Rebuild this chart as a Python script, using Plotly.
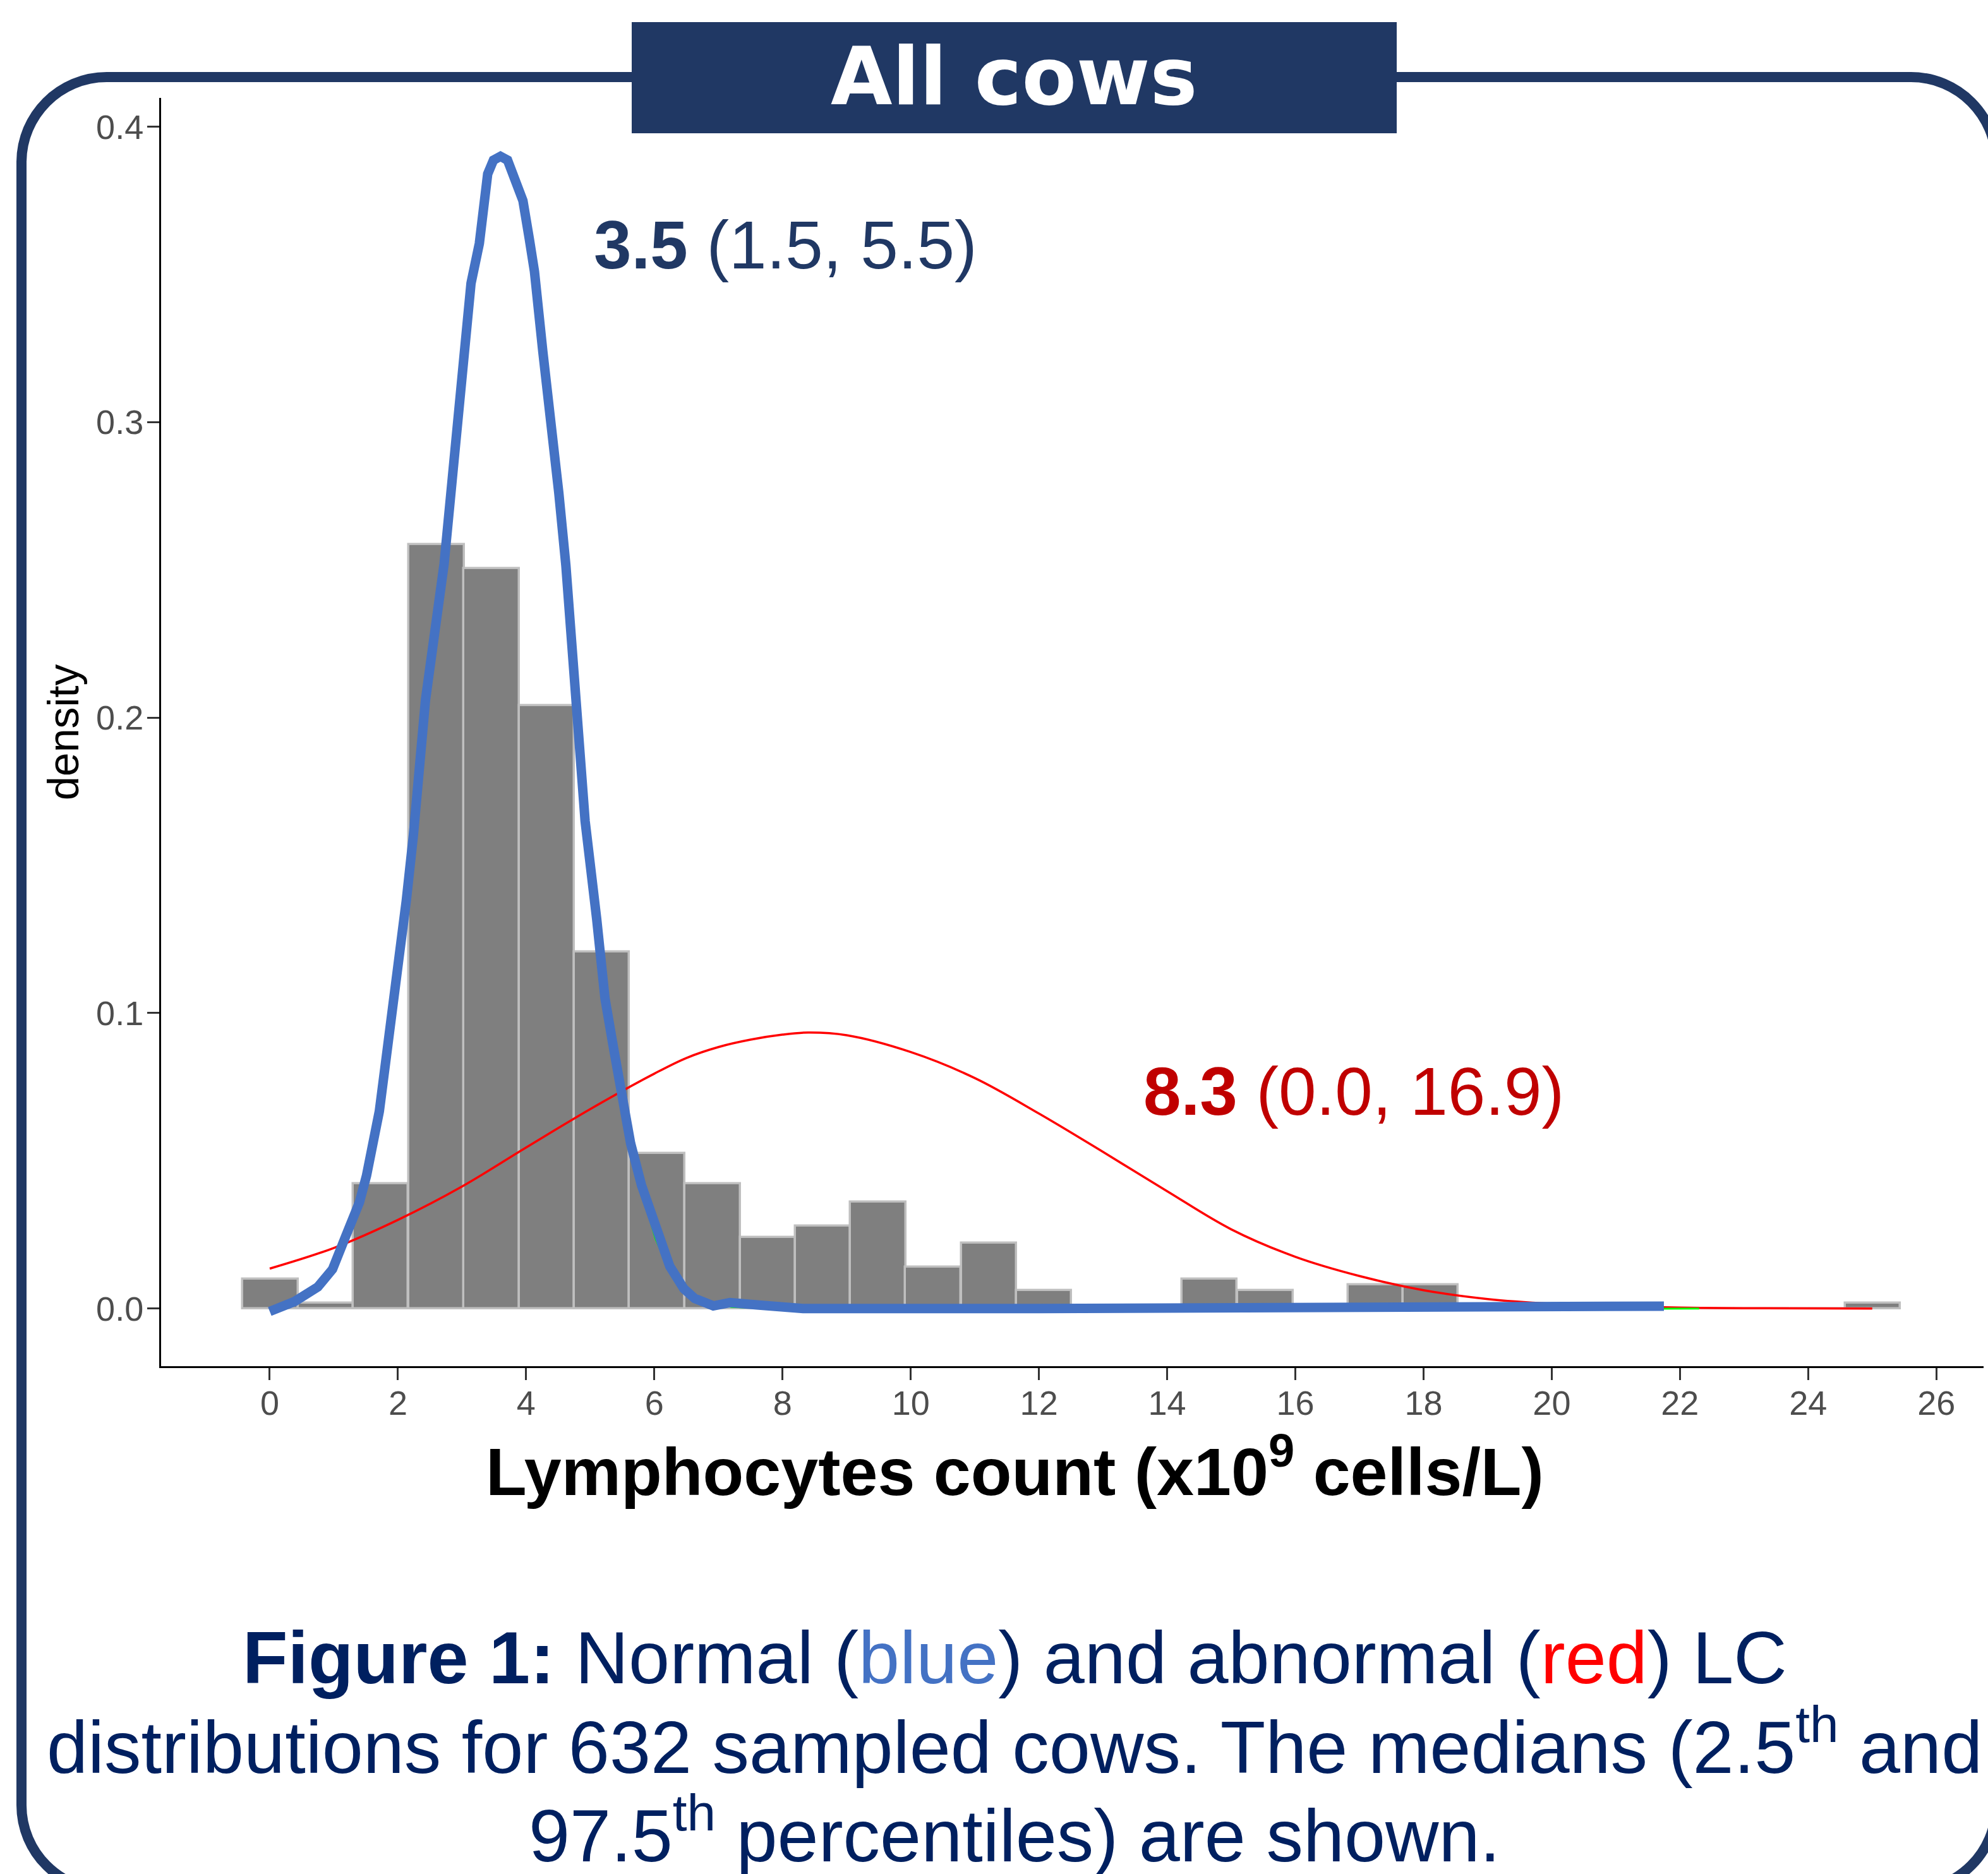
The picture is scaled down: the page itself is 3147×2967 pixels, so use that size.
import plotly.graph_objects as go

# ---------------- data ----------------
bin_centers = [0.01, 0.87, 1.73, 2.60, 3.46, 4.32, 5.18, 6.04, 6.91, 7.77,
               8.63, 9.49, 10.35, 11.22, 12.08, 12.94, 13.80, 14.66, 15.53, 16.39,
               17.25, 18.11, 18.97, 19.84, 20.70, 21.56, 22.42, 23.28, 24.15, 25.01]
bin_density = [0.0099, 0.0019, 0.0423, 0.2587, 0.2506, 0.2041, 0.1208, 0.0526, 0.0423, 0.0241,
               0.0280, 0.0361, 0.0140, 0.0222, 0.0061, 0.0, 0.0, 0.0100, 0.0062, 0.0,
               0.0081, 0.0081, 0.0, 0.0, 0.0, 0.0, 0.0, 0.0, 0.0, 0.0019]
bin_width = 0.862

# normal (blue) density
normal_x = [0.00, 0.39, 0.75, 0.98, 1.18, 1.40, 1.51, 1.64, 1.71, 1.82, 1.91, 2.02, 2.13, 2.24,
            2.43, 2.72, 2.88, 2.98, 3.08, 3.14, 3.27, 3.33, 3.40, 3.49, 3.60, 3.71, 3.84, 3.95,
            4.05, 4.13, 4.26, 4.40, 4.51, 4.62, 4.77, 4.92, 5.10, 5.23, 5.36, 5.50, 5.63, 5.80,
            6.02, 6.24, 6.46, 6.63, 6.92, 7.18, 7.60, 8.32, 12.0, 16.0, 21.75]
normal_y = [-0.0010, 0.0024, 0.0073, 0.0133, 0.0242, 0.0360, 0.0450, 0.0610, 0.0668, 0.0854,
            0.0996, 0.1160, 0.1380, 0.1600, 0.2060, 0.2520, 0.2860, 0.3100, 0.3340, 0.3470,
            0.3605, 0.3730, 0.3840, 0.3887, 0.3900, 0.3887, 0.3820, 0.3750, 0.3620, 0.3510,
            0.3240, 0.3000, 0.2760, 0.2515, 0.2080, 0.1650, 0.1320, 0.1050, 0.0886, 0.0722,
            0.0559, 0.0417, 0.0274, 0.0143, 0.0067, 0.0034, 0.0009, 0.0020, 0.0012, 0.0000,
            0.0000, 0.0002, 0.0008]

# abnormal (red) density
abnormal_x = [0.0, 1.0, 2.0, 3.0, 4.0, 5.0, 6.0, 6.5, 7.0, 7.5, 8.0, 8.4, 9.0, 10.0, 11.0,
              12.0, 13.0, 14.0, 15.0, 16.0, 17.0, 18.0, 19.0, 20.0, 21.0, 22.0, 23.0, 25.0]
abnormal_y = [0.0135, 0.0205, 0.0300, 0.0413, 0.0545, 0.0675, 0.0795, 0.0848, 0.0885, 0.0910,
              0.0927, 0.0934, 0.0925, 0.0868, 0.0780, 0.0660, 0.0530, 0.0397, 0.0268, 0.0175,
              0.0110, 0.0062, 0.0032, 0.0016, 0.0008, 0.0003, 0.0001, 0.0000]

# green component (mostly hidden beneath the blue curve)
green_x = [5.50, 5.75, 6.02, 6.30, 6.70, 7.20, 8.50, 12.0, 16.0, 20.0, 22.3]
green_y = [0.0700, 0.0436, 0.0235, 0.0100, 0.0030, 0.0005, -0.0005, -0.0005, -0.0004, -0.0002, 0.0000]

x_ticks = [0, 2, 4, 6, 8, 10, 12, 14, 16, 18, 20, 22, 24, 26]
y_ticks = [0.0, 0.1, 0.2, 0.3, 0.4]
y_tick_labels = ["0.0", "0.1", "0.2", "0.3", "0.4"]

# ---------------- layout geometry ----------------
W, H = 3147, 2967
ML, MR, MT, MB = 255, 7, 155, 804
PW = W - ML - MR
PH = H - MT - MB


def px(X):
    return (X - ML) / PW


def py(Y):
    return (H - MB - Y) / PH


NAVY = "#203864"
FONT = "Liberation Sans, Arial, sans-serif"

fig = go.Figure()

fig.add_trace(go.Bar(x=bin_centers, y=bin_density, width=bin_width,
                     marker=dict(color="#7F7F7F", line=dict(color="#BFBFBF", width=3.5)),
                     hoverinfo="skip", showlegend=False))
fig.add_trace(go.Scatter(x=abnormal_x, y=abnormal_y, mode="lines",
                         line=dict(color="#FF0000", width=3.5, shape="spline", smoothing=1.0),
                         hoverinfo="skip", showlegend=False))
fig.add_trace(go.Scatter(x=green_x, y=green_y, mode="lines",
                         line=dict(color="#00FF00", width=3),
                         hoverinfo="skip", showlegend=False))
fig.add_trace(go.Scatter(x=normal_x, y=normal_y, mode="lines",
                         line=dict(color="#4472C4", width=15),
                         hoverinfo="skip", showlegend=False))

# rounded frame (centerline, in pixels) converted to paper coordinates
x0, y0, x1, y1, r = 34, 122, 3160, 2993, 135
k = 0.5523 * r


def P(X, Y):
    return f"{px(X):.5f},{py(Y):.5f}"


path = (f"M {P(x0 + r, y0)} L {P(x1 - r, y0)} "
        f"C {P(x1 - r + k, y0)} {P(x1, y0 + r - k)} {P(x1, y0 + r)} "
        f"L {P(x1, y1 - r)} "
        f"C {P(x1, y1 - r + k)} {P(x1 - r + k, y1)} {P(x1 - r, y1)} "
        f"L {P(x0 + r, y1)} "
        f"C {P(x0 + r - k, y1)} {P(x0, y1 - r + k)} {P(x0, y1 - r)} "
        f"L {P(x0, y0 + r)} "
        f"C {P(x0, y0 + r - k)} {P(x0 + r - k, y0)} {P(x0 + r, y0)} Z")

shapes = [
    dict(type="path", xref="paper", yref="paper", path=path,
         line=dict(color=NAVY, width=16), fillcolor="rgba(0,0,0,0)", layer="above"),
    dict(type="rect", xref="paper", yref="paper",
         x0=px(1000), x1=px(2211), y0=py(211), y1=py(35),
         line=dict(width=0), fillcolor=NAVY, layer="above"),
]

annotations = [
    dict(text="<b>All cows</b>", xref="paper", yref="paper", x=px(1605), y=py(121),
         xanchor="center", yanchor="middle", showarrow=False,
         font=dict(family="DejaVu Sans, sans-serif", size=126, color="white")),
    dict(text="<b>3.5</b> (1.5, 5.5)", xref="paper", yref="paper", x=px(938), y=py(388),
         xanchor="left", yanchor="middle", showarrow=False,
         font=dict(family=FONT, size=107, color=NAVY)),
    dict(text="<b>8.3</b> (0.0, 16.9)", xref="paper", yref="paper", x=px(1808), y=py(1728),
         xanchor="left", yanchor="middle", showarrow=False,
         font=dict(family=FONT, size=107, color="#C00000")),
    dict(text="density", xref="paper", yref="paper", x=px(100), y=py(1160), textangle=-90,
         xanchor="center", yanchor="middle", showarrow=False,
         font=dict(family=FONT, size=68, color="black")),
    dict(text="<b>Lymphocytes count (x10<sup>9</sup> cells/L)</b>", xref="paper", yref="paper",
         x=px(1606), y=py(2322), xanchor="center", yanchor="middle", showarrow=False,
         font=dict(family=FONT, size=106, color="black")),
    dict(text="<b>Figure 1:</b> Normal (<span style='color:#4472C4'>blue</span>) and abnormal "
              "(<span style='color:#FF0000'>red</span>) LC",
         xref="paper", yref="paper", x=px(1606), y=py(2624), xanchor="center", yanchor="middle",
         showarrow=False, font=dict(family=FONT, size=117, color="#002060")),
    dict(text="distributions for 632 sampled cows. The medians (2.5<sup>th</sup> and",
         xref="paper", yref="paper", x=px(1606), y=py(2758), xanchor="center", yanchor="middle",
         showarrow=False, font=dict(family=FONT, size=117, color="#002060")),
    dict(text="97.5<sup>th</sup> percentiles) are shown.",
         xref="paper", yref="paper", x=px(1606), y=py(2898), xanchor="center", yanchor="middle",
         showarrow=False, font=dict(family=FONT, size=117, color="#002060")),
]

axis_common = dict(showline=True, linecolor="black", linewidth=3, ticks="outside",
                   ticklen=19, tickwidth=3, tickcolor="#333333", showgrid=False,
                   zeroline=False, tickfont=dict(family=FONT, size=54, color="#4D4D4D"),
                   fixedrange=True)

fig.update_layout(
    width=W, height=H,
    margin=dict(l=ML, r=MR, t=MT, b=MB, pad=0),
    paper_bgcolor="white", plot_bgcolor="white",
    showlegend=False, bargap=0,
    xaxis=dict(range=[-1.695, 26.737], tickmode="array", tickvals=x_ticks,
               ticktext=[str(v) for v in x_ticks], ticklabelstandoff=-10, **axis_common),
    yaxis=dict(range=[-0.01952, 0.40977], tickmode="array", tickvals=y_ticks,
               ticktext=y_tick_labels, ticklabelstandoff=-5, **axis_common),
    shapes=shapes,
    annotations=annotations,
)

fig.write_html("out.html", config={"displayModeBar": False})
